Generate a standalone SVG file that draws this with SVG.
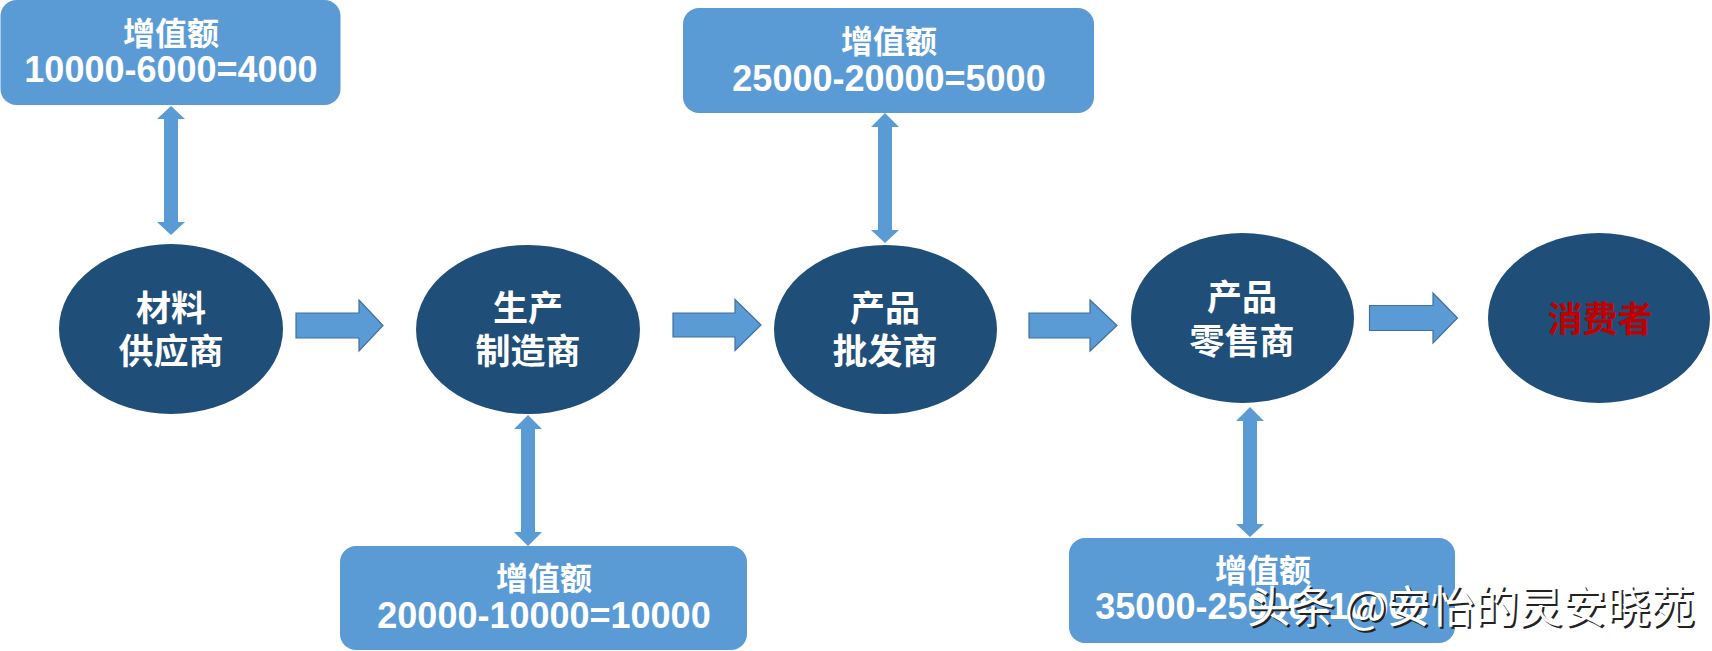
<svg xmlns="http://www.w3.org/2000/svg" width="1712" height="651" viewBox="0 0 1712 651">
<style>
.box{fill:#5B9BD5;}
.ell{fill:#1F4E79;}
.harrow{fill:#5B9BD5;stroke:#41719C;stroke-width:1.2;}
.varrow{fill:#5B9BD5;}
.t{font-family:"Liberation Sans","Noto Sans CJK SC",sans-serif;font-weight:bold;fill:#FFFFFF;text-anchor:middle;}
.lbl{font-size:32px;}
.num{font-size:36px;}
.node{font-size:35px;}
.red{fill:#C00000;}
.wm{font-family:"Noto Sans CJK SC",sans-serif;font-size:44px;font-weight:normal;}
</style>
<rect width="1712" height="651" fill="#FFFFFF"/>
<g id="connectors">
  <polygon class="varrow" points="171,106 185,119 178,119 178,222 185,222 171,235 157,222 164,222 164,119 157,119"/>
  <polygon class="varrow" points="528,415 542,429 535,429 535,532 542,532 528,546 514,532 521,532 521,429 514,429"/>
  <polygon class="varrow" points="885,113 899,127 892,127 892,230 899,230 885,243 871,230 878,230 878,127 871,127"/>
  <polygon class="varrow" points="1250,407 1264,421 1257,421 1257,524 1264,524 1250,537 1236,524 1243,524 1243,421 1236,421"/>
  <polygon class="harrow" points="296,313 359,313 359,300 383,325.5 359,351 359,338 296,338"/>
  <polygon class="harrow" points="673,313 735,313 735,299.5 761,325 735,350.5 735,337 673,337"/>
  <polygon class="harrow" points="1029,313 1090,313 1090,300 1117,325.5 1090,351 1090,338 1029,338"/>
  <polygon class="harrow" points="1369.5,305.5 1433,305.5 1433,293 1457.5,318 1433,343 1433,330.5 1369.5,330.5"/>
</g>
<g id="box1">
  <rect class="box" x="0.5" y="0" width="340" height="105" rx="16"/>
  <text class="t lbl" x="171" y="45">增值额</text>
  <text class="t num" x="171" y="82">10000-6000=4000</text>
</g>
<g id="box2">
  <rect class="box" x="340" y="546" width="407" height="104" rx="16"/>
  <text class="t lbl" x="544" y="590">增值额</text>
  <text class="t num" x="544" y="628">20000-10000=10000</text>
</g>
<g id="box3">
  <rect class="box" x="683" y="8" width="411" height="105" rx="16"/>
  <text class="t lbl" x="889" y="53">增值额</text>
  <text class="t num" x="889" y="91">25000-20000=5000</text>
</g>
<g id="box4">
  <rect class="box" x="1069" y="538" width="386" height="105" rx="16"/>
  <text class="t lbl" x="1263" y="582">增值额</text>
  <text class="t num" x="1262" y="619">35000-25000=10000</text>
</g>
<g id="node1">
  <ellipse class="ell" cx="171" cy="329" rx="112" ry="85"/>
  <text class="t node" x="171" y="321">材料</text>
  <text class="t node" x="171" y="364">供应商</text>
</g>
<g id="node2">
  <ellipse class="ell" cx="528" cy="329.5" rx="112" ry="84.5"/>
  <text class="t node" x="528" y="321">生产</text>
  <text class="t node" x="528" y="364">制造商</text>
</g>
<g id="node3">
  <ellipse class="ell" cx="885.5" cy="329.5" rx="111.5" ry="84.5"/>
  <text class="t node" x="885" y="321">产品</text>
  <text class="t node" x="885" y="364">批发商</text>
</g>
<g id="node4">
  <ellipse class="ell" cx="1242.5" cy="318" rx="111.5" ry="85"/>
  <text class="t node" x="1242" y="310">产品</text>
  <text class="t node" x="1242" y="354">零售商</text>
</g>
<g id="node5">
  <ellipse class="ell" cx="1599" cy="318" rx="111" ry="85"/>
  <text class="t node red" x="1600" y="332">消费者</text>
</g>
<g id="watermark">
  <text class="wm" x="1249" y="625" fill="#222222">头条 @安怡的灵安晓苑</text>
  <text class="wm" x="1247" y="623" fill="#FFFFFF">头条 @安怡的灵安晓苑</text>
</g>
</svg>
